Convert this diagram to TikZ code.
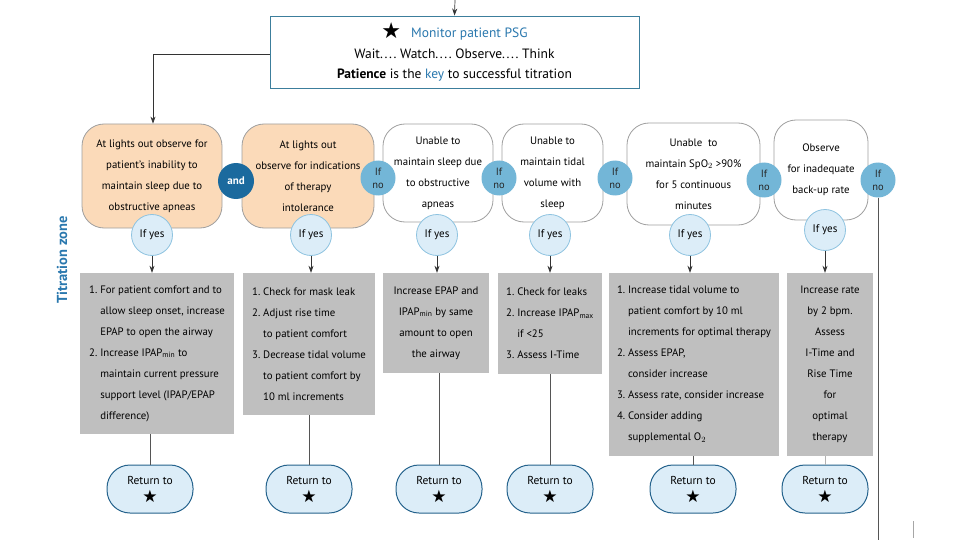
\documentclass[tikz,border=0pt]{standalone}
\usepackage{fontspec}
\setmainfont{PT Sans}
\newfontfamily\symfont{DejaVu Sans}
\usetikzlibrary{arrows.meta,positioning}
\definecolor{peach}{HTML}{FBDAB9}
\definecolor{boxgray}{HTML}{BFBFBF}
\definecolor{lblue}{HTML}{DCEDF8}
\definecolor{lbluebd}{HTML}{8EC3E0}
\definecolor{midblue}{HTML}{73B6D7}
\definecolor{darkblue}{HTML}{1B6A9E}
\definecolor{txtblue}{HTML}{2A78AE}
\definecolor{topbd}{HTML}{3C7E9C}
\definecolor{ovalbd}{HTML}{24628C}
\definecolor{linegray}{HTML}{555555}
\tikzset{
  x=1pt,y=-1pt,
  base/.style={font=\fontsize{10.8}{21}\selectfont, inner sep=0pt, align=center},
  qbox/.style={base, draw=gray!75, line width=0.8pt, rounded corners=22pt},
  qpeach/.style={qbox, fill=peach},
  qwhite/.style={qbox, fill=white},
  ifno/.style={circle, fill=midblue, minimum size=35pt, inner sep=0pt, align=center,
    font=\fontsize{10.5}{13}\selectfont, text=black!85},
  ifyes/.style={circle, fill=lblue, draw=lbluebd, line width=0.8pt, minimum size=41pt, inner sep=0pt,
    font=\fontsize{11}{12}\selectfont},
  andnode/.style={circle, fill=darkblue, minimum size=36pt, inner sep=0pt,
    font=\bfseries\fontsize{11}{12}\selectfont, text=white},
  gbox/.style={base, fill=boxgray},
  retoval/.style={base, fill=lblue, draw=ovalbd, line width=1pt, rounded corners=23pt,
    minimum width=86pt, minimum height=48pt, font=\fontsize{11.5}{18}\selectfont},
  conn/.style={draw=linegray, line width=0.7pt},
  arr/.style={conn, -{Stealth[length=7pt,width=5pt]}, draw=black!80},
}
\newcommand{\hstar}{{\symfont\fontsize{17}{17}\selectfont ★}}
\newcommand{\bigstar}{{\symfont\fontsize{22}{22}\selectfont ★}}
\newcommand{\ind}{\hphantom{1.~}}
\newcommand{\dts}{.\kern1.6pt.\kern1.6pt.\kern1.6pt.}
\begin{document}
\begin{tikzpicture}
\useasboundingbox (0,0) rectangle (960,540);

% top box
\node[base, draw=topbd, line width=0.9pt, fill=white, minimum width=369pt, minimum height=72pt,
  font=\fontsize{13.5}{20.5}\selectfont] (top) at (454.5,52)
  {\raisebox{-1pt}{\bigstar}\hspace{10pt}{\color{txtblue}Monitor patient PSG}\\
   Wait\dts\ Watch\dts\ Observe\dts\ Think\\
   \textbf{Patience} is the {\color{txtblue}key} to successful titration};
\coordinate (topin) at (455,0);
\draw[arr] (topin) -- (top.north);

% question boxes
\node[qpeach, minimum width=140pt, minimum height=104pt] (b1) at (152,176)
  {At lights out observe for\\patient’s inability to\\maintain sleep due to\\obstructive apneas};
\node[qpeach, minimum width=132pt, minimum height=104pt] (b2) at (308,176)
  {At lights out\\observe for indications\\of therapy\\intolerance};
\node[qwhite, minimum width=110pt, minimum height=98pt] (b3) at (438,173)
  {Unable to\\maintain sleep due\\to obstructive\\apneas};
\node[qwhite, minimum width=101pt, minimum height=98pt] (b4) at (552.5,173)
  {Unable to\\maintain tidal\\volume with\\sleep};
\node[qwhite, minimum width=133pt, minimum height=102pt] (b5) at (693.5,174)
  {Unable\ \ to\\maintain SpO$_2$ >90\%\\for 5 continuous\\minutes};
\node[qwhite, minimum width=94pt, minimum height=100pt] (b6) at (821,170)
  {Observe\\for inadequate\\back-up rate};

\draw[arr] (top.west |- 0,54) -| (b1.north -| 153,0);

% connector circles
\node[andnode] (and) at (236,181) {and};
\node[ifno] (n1) at (378,178) {If\\no};
\node[ifno] (n2) at (499,178) {If\\no};
\node[ifno] (n3) at (615,178) {If\\no};
\node[ifno] (n4) at (764,180) {If\\no};
\node[ifno] (n5) at (878,180) {If\\no};

\node[ifyes] (y1) at (152,235) {If yes};
\node[ifyes] (y2) at (311,235) {If yes};
\node[ifyes] (y3) at (437,235) {If yes};
\node[ifyes] (y4) at (550,235) {If yes};
\node[ifyes] (y5) at (690,235) {If yes};
\node[ifyes] (y6) at (825,230) {If yes};

% titration zone
\node[font=\bfseries\fontsize{14.5}{16}\selectfont, text=txtblue, rotate=90, inner sep=0pt] (tz) at (62,260) {Titration zone};

% gray action boxes
\node[gbox, minimum width=154pt, minimum height=161pt, align=left] (g1) at (157,353.5)
  {1.~For patient comfort and to\\
   \ind allow sleep onset, increase\\
   \ind EPAP to open the airway\\
   2.~Increase IPAP$_{\mathrm{min}}$ to\\
   \ind maintain current pressure\\
   \ind support level (IPAP/EPAP\\
   \ind difference)};
\node[gbox, minimum width=132pt, minimum height=142pt, align=left] (g2) at (309,344)
  {1.~Check for mask leak\\
   2.~Adjust rise time\\
   \ind to patient comfort\\
   3.~Decrease tidal volume\\
   \ind to patient comfort by\\
   \ind 10 ml increments};
\node[gbox, minimum width=106pt, minimum height=100pt] (g3) at (436,323)
  {Increase EPAP and\\IPAP$_{\mathrm{min}}$ by same\\amount to open\\the airway};
\node[gbox, minimum width=104pt, minimum height=101pt, align=left] (g4) at (550,323.5)
  {1.~Check for leaks\\
   2.~Increase IPAP$_{\mathrm{max}}$\\
   \ind if <25\\
   3.~Assess I-Time};
\node[gbox, minimum width=170pt, minimum height=183pt, align=left] (g5) at (694,364.5)
  {1.~Increase tidal volume to\\
   \ind patient comfort by 10 ml\\
   \ind increments for optimal therapy\\
   2.~Assess EPAP,\\
   \ind consider increase\\
   3.~Assess rate, consider increase\\
   4.~Consider adding\\
   \ind supplemental O$_2$};
\node[gbox, minimum width=86pt, minimum height=183pt] (g6) at (830,364.5)
  {Increase rate\\by 2 bpm.\\Assess\\I-Time and\\Rise Time\\for\\optimal\\therapy};

\foreach \i in {1,...,6} {
  \draw[arr] (y\i.south) -- (y\i.south |- g\i.north);
}

% return ovals
\node[retoval] (r1) at (150,489) {Return to\\\hstar};
\node[retoval] (r2) at (309,489) {Return to\\\hstar};
\node[retoval] (r3) at (439,489) {Return to\\\hstar};
\node[retoval] (r4) at (550,489) {Return to\\\hstar};
\node[retoval] (r5) at (693,489) {Return to\\\hstar};
\node[retoval] (r6) at (825,489) {Return to\\\hstar};

\draw[conn] (r1.north |- g1.south) -- (r1.north);
\draw[conn] (r2.north |- g2.south) -- (r2.north);
\draw[conn] (r3.north |- g3.south) -- (r3.north);
\draw[conn] (r4.north |- g4.south) -- (r4.north);
\draw[conn] (r5.north |- g5.south) -- (r5.north);
\draw[conn, draw=gray!60] (r6.north |- g6.south) -- (r6.north);

% right side line
\coordinate (rend) at (878,540);
\draw[conn] (n5.south) -- (rend);
\coordinate (tka) at (913,521);
\coordinate (tkb) at (913,538);
\draw[conn, draw=gray!70] (tka) -- (tkb);
\end{tikzpicture}
\end{document}
